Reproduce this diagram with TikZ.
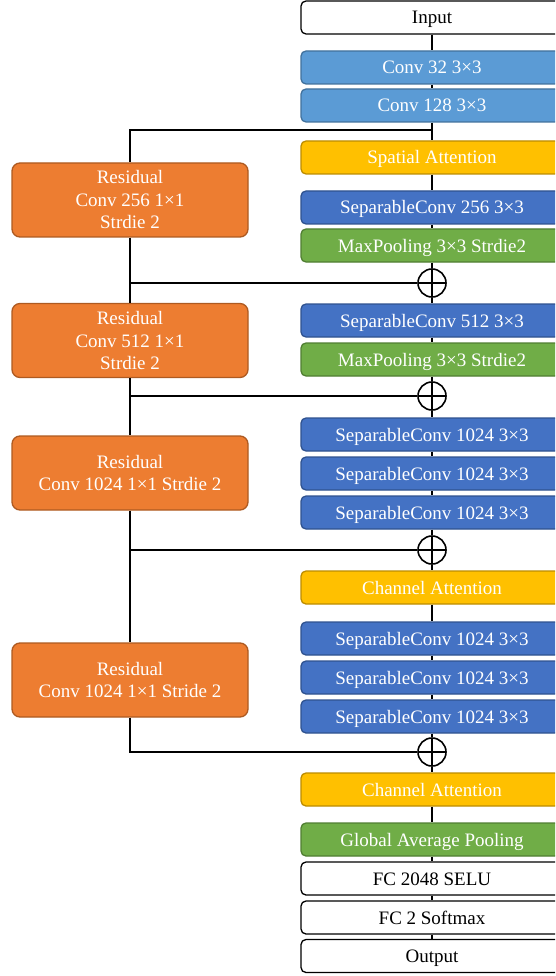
\documentclass[tikz,border=0pt]{standalone}
\usepackage{fontspec}
\setmainfont{Liberation Serif}
\begin{document}
\begin{tikzpicture}[x=1pt,y=-1pt,
  base/.style={rounded corners=5pt, line width=1.3pt, minimum width=262pt, minimum height=33pt, inner sep=0pt, text height=13pt, text depth=0pt, font=\fontsize{19}{22}\selectfont},
  wbox/.style={base, draw=black, fill=white, text=black},
  lblue/.style={base, draw=lbluedk, fill=lblue, text=white},
  dblue/.style={base, draw=dbluedk, fill=dblue, text=white},
  gold/.style={base, draw=golddk, fill=goldc, text=white},
  green/.style={base, draw=greendk, fill=greenc, text=white},
  resbox/.style={rounded corners=8pt, line width=1.3pt, draw=orangedk, fill=orangec, text=white, minimum width=236pt, minimum height=74pt, inner sep=0pt, align=center, font=\fontsize{19}{22.5}\selectfont},
  plus/.style={circle, draw=black, line width=1.6pt, minimum size=28pt, inner sep=0pt,
    path picture={\draw[line width=1.6pt] (path picture bounding box.north) -- (path picture bounding box.south) (path picture bounding box.west) -- (path picture bounding box.east);}},
  wire/.style={line width=1.8pt, black}
]
\definecolor{lblue}{HTML}{5B9BD5}\definecolor{lbluedk}{HTML}{41719C}
\definecolor{dblue}{HTML}{4472C4}\definecolor{dbluedk}{HTML}{2F528F}
\definecolor{goldc}{HTML}{FFC000}\definecolor{golddk}{HTML}{BC8C00}
\definecolor{greenc}{HTML}{70AD47}\definecolor{greendk}{HTML}{507E32}
\definecolor{orangec}{HTML}{ED7D31}\definecolor{orangedk}{HTML}{AE5A21}
\useasboundingbox (0,0) rectangle (555,976);
\clip (0,0) rectangle (555,976);

% right column
\node[wbox]  (in)   at (432,17.5) {Input};
\node[lblue] (c32)  at (432,67.5) {Conv 32 3×3};
\node[lblue] (c128) at (432,105.5) {Conv 128 3×3};
\node[gold]  (sa)   at (432,157.5) {Spatial Attention};
\node[dblue] (s256) at (432,207.5) {SeparableConv 256 3×3};
\node[green] (mp1)  at (432,245.5) {MaxPooling 3×3 Strdie2};
\node[plus]  (p1)   at (432,283) {};
\node[dblue] (s512) at (432,320.5) {SeparableConv 512 3×3};
\node[green] (mp2)  at (432,359.5) {MaxPooling 3×3 Strdie2};
\node[plus]  (p2)   at (432,396) {};
\node[dblue] (a1)   at (432,434.5) {SeparableConv 1024 3×3};
\node[dblue] (a2)   at (432,473.5) {SeparableConv 1024 3×3};
\node[dblue] (a3)   at (432,512.5) {SeparableConv 1024 3×3};
\node[plus]  (p3)   at (432,550) {};
\node[gold]  (ca1)  at (432,587.5) {Channel Attention};
\node[dblue] (b1)   at (432,638.5) {SeparableConv 1024 3×3};
\node[dblue] (b2)   at (432,677.5) {SeparableConv 1024 3×3};
\node[dblue] (b3)   at (432,716.5) {SeparableConv 1024 3×3};
\node[plus]  (p4)   at (432,752) {};
\node[gold]  (ca2)  at (432,789.5) {Channel Attention};
\node[green] (gap)  at (432,839.5) {Global Average Pooling};
\node[wbox]  (fc1)  at (432,878.5) {FC 2048 SELU};
\node[wbox]  (fc2)  at (432,917.5) {FC 2 Softmax};
\node[wbox]  (out)  at (432,956) {Output};

% left residual boxes
\node[resbox] (r1) at (130,200) {Residual\\Conv 256 1×1\\Strdie 2};
\node[resbox] (r2) at (130,340.5) {Residual\\Conv 512 1×1\\Strdie 2};
\node[resbox] (r3) at (130,473) {Residual\\Conv 1024 1×1 Strdie 2};
\node[resbox] (r4) at (130,680) {Residual\\Conv 1024 1×1 Stride 2};

\coordinate (t1) at (432,130);
\coordinate (l1) at (130,130);

% spine
\draw[wire] (in) -- (c32);
\draw[wire] (c32) -- (c128);
\draw[wire] (c128) -- (sa);
\draw[wire] (sa) -- (s256);
\draw[wire] (s256) -- (mp1);
\draw[wire] (mp1) -- (p1);
\draw[wire] (p1) -- (s512);
\draw[wire] (s512) -- (mp2);
\draw[wire] (mp2) -- (p2);
\draw[wire] (p2) -- (a1);
\draw[wire] (a1) -- (a2);
\draw[wire] (a2) -- (a3);
\draw[wire] (a3) -- (p3);
\draw[wire] (p3) -- (ca1);
\draw[wire] (ca1) -- (b1);
\draw[wire] (b1) -- (b2);
\draw[wire] (b2) -- (b3);
\draw[wire] (b3) -- (p4);
\draw[wire] (p4) -- (ca2);
\draw[wire] (ca2) -- (gap);
\draw[wire] (gap) -- (fc1);
\draw[wire] (fc1) -- (fc2);
\draw[wire] (fc2) -- (out);

% residual branches
\draw[wire] (t1) -- (l1) -- (r1.north);
\draw[wire] (r1.south) -- (r1 |- p1) -- (p1.west);
\draw[wire] (r1 |- p1) -- (r2.north);
\draw[wire] (r2.south) -- (r2 |- p2) -- (p2.west);
\draw[wire] (r2 |- p2) -- (r3.north);
\draw[wire] (r3.south) -- (r3 |- p3) -- (p3.west);
\draw[wire] (r3 |- p3) -- (r4.north);
\draw[wire] (r4.south) -- (r4 |- p4) -- (p4.west);
\end{tikzpicture}
\end{document}
